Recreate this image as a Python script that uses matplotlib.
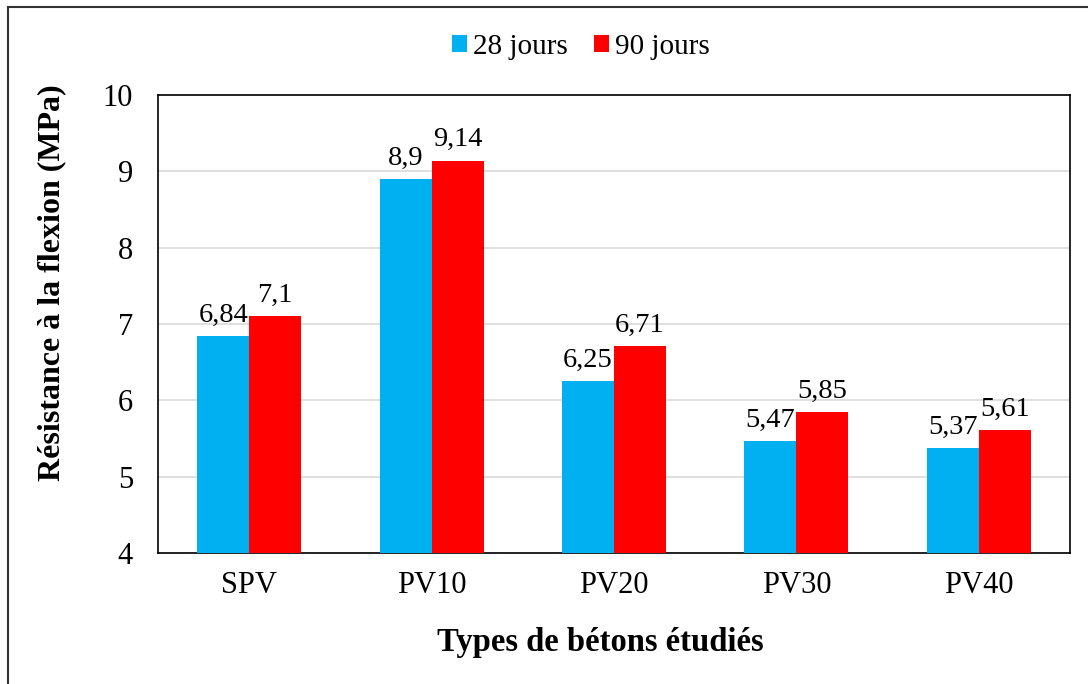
import matplotlib
matplotlib.use("agg")
import matplotlib.pyplot as plt
import numpy as np

categories = ["SPV", "PV10", "PV20", "PV30", "PV40"]
jours_28 = [6.84, 8.9, 6.25, 5.47, 5.37]
jours_90 = [7.1, 9.14, 6.71, 5.85, 5.61]
labels_28 = ["6,84", "8,9", "6,25", "5,47", "5,37"]
labels_90 = ["7,1", "9,14", "6,71", "5,85", "5,61"]

plt.rcParams["font.family"] = ["Liberation Serif", "DejaVu Serif"]

W, H = 1088, 684
fig = plt.figure(figsize=(W / 100, H / 100), dpi=100)
ax = fig.add_axes([158 / W, 1 - 553 / H, (1070 - 158) / W, (553 - 95) / H])

x = np.arange(len(categories))
w = 0.285
b1 = ax.bar(x - w / 2, [v - 4 for v in jours_28], w, bottom=4, color="#00B0F0", label="28 jours", zorder=3)
b2 = ax.bar(x + w / 2, [v - 4 for v in jours_90], w, bottom=4, color="#FF0000", label="90 jours", zorder=3)

ax.bar_label(b1, labels=labels_28, padding=6, fontsize=20.5)
ax.bar_label(b2, labels=labels_90, padding=6, fontsize=20.5)

ax.set_xlim(-0.5, len(categories) - 0.5)
ax.set_ylim(4, 10)
ax.set_yticks(range(4, 11))
ax.set_xticks(x)
ax.set_xticklabels(categories)
ax.tick_params(axis="both", length=0, labelsize=22)
ax.tick_params(axis="x", pad=13)
ax.tick_params(axis="y", pad=18)
ax.yaxis.grid(True, color="#D9D9D9", linewidth=1.2, zorder=0)
for s in ax.spines.values():
    s.set_color("black")
    s.set_linewidth(1.2)

fig.text(600 / W, 1 - 643 / H, "Types de bétons étudiés", fontsize=23.5, fontweight="bold",
         ha="center", va="center")
fig.text(52 / W, 1 - 283 / H, "Résistance à la flexion (MPa)", fontsize=23, fontweight="bold",
         ha="center", va="center", rotation=90)

fig.legend(loc="center", bbox_to_anchor=(581 / W, 1 - 47 / H), ncol=2, frameon=False,
           fontsize=21, handlelength=0.52, handleheight=0.52, handletextpad=0.2, columnspacing=0.9)

# outer frame (left and top only visible)
fig.add_artist(plt.Line2D([8 / W, 8 / W], [0, 1 - 7 / H], transform=fig.transFigure, color="#333333", lw=1.5))
fig.add_artist(plt.Line2D([8 / W, 1], [1 - 7 / H, 1 - 7 / H], transform=fig.transFigure, color="#333333", lw=1.5))

fig.savefig("out.png", dpi=100, facecolor="white")
